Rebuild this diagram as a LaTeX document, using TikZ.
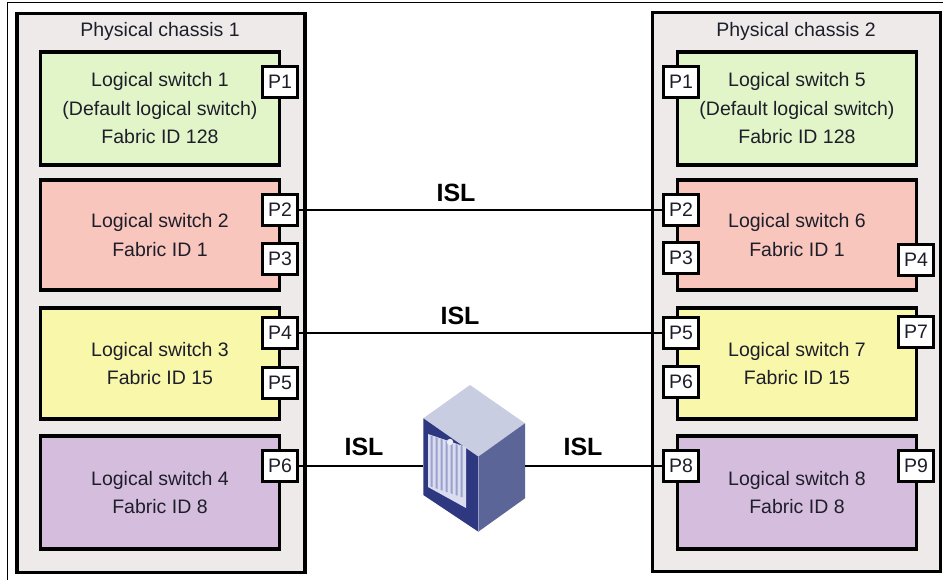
\documentclass[tikz,border=0pt]{standalone}
\usepackage{fontspec}
\setmainfont{Liberation Sans}
\definecolor{chassisgray}{HTML}{EDEAE9}
\definecolor{lsgreen}{HTML}{E2F5C9}
\definecolor{lsred}{HTML}{F8C6BC}
\definecolor{lsyellow}{HTML}{F8F7AA}
\definecolor{lspurple}{HTML}{D5BDDE}
\definecolor{txt}{HTML}{1E1E2A}
\definecolor{cabtop}{HTML}{C9CDE2}
\definecolor{cabfront}{HTML}{2D3880}
\definecolor{cabside}{HTML}{5B6598}
\definecolor{cabpanel}{HTML}{DADDF0}
\definecolor{cabstripe}{HTML}{9AA1CC}
\begin{document}
\begin{tikzpicture}[x=1pt,y=-1pt,
  chassis/.style={draw=black, line width=3.5pt, fill=chassisgray, minimum width=288pt, minimum height=559pt, inner sep=0pt},
  chlabel/.style={font=\fontsize{19.5}{22}\selectfont, text=txt, inner sep=0pt},
  lswitch/.style={draw=black, line width=3.5pt, align=center, inner sep=0pt,
    font=\fontsize{19.5}{28.5}\selectfont, text=txt, minimum width=239pt},
  port/.style={draw=black, line width=3pt, fill=white, minimum width=34.5pt, minimum height=30.5pt,
    inner sep=0pt, font=\fontsize{19.5}{20}\selectfont, text=txt},
  link/.style={line width=2.2pt},
  isl/.style={font=\fontsize{25}{28}\selectfont\bfseries, inner sep=0pt}
]
\useasboundingbox (0,0) rectangle (943,580);

% outer frame (top and left edges)
\draw[line width=1pt] (7,580) -- (7,3) -- (943,3);

% physical chassis
\node[chassis] (ch1) at (161,293) {};
\node[chassis] (ch2) at (796.5,292) {};
\node[chlabel] (ch1lbl) at (160,31) {Physical chassis 1};
\node[chlabel] (ch2lbl) at (796,31) {Physical chassis 2};

% logical switches, chassis 1
\node[lswitch, fill=lsgreen,  minimum height=113pt] (ls1) at (160,108.5)
  {Logical switch 1\\(Default logical switch)\\Fabric ID 128};
\node[lswitch, fill=lsred,    minimum height=110pt] (ls2) at (160,235)
  {Logical switch 2\\Fabric ID 1};
\node[lswitch, fill=lsyellow, minimum height=111pt] (ls3) at (160,363.5)
  {Logical switch 3\\Fabric ID 15};
\node[lswitch, fill=lspurple, minimum height=113pt] (ls4) at (160,492.5)
  {Logical switch 4\\Fabric ID 8};

% logical switches, chassis 2
\node[lswitch, fill=lsgreen,  minimum height=113pt] (ls5) at (797,108.5)
  {Logical switch 5\\(Default logical switch)\\Fabric ID 128};
\node[lswitch, fill=lsred,    minimum height=110pt] (ls6) at (797,235)
  {Logical switch 6\\Fabric ID 1};
\node[lswitch, fill=lsyellow, minimum height=111pt] (ls7) at (797,363.5)
  {Logical switch 7\\Fabric ID 15};
\node[lswitch, fill=lspurple, minimum height=113pt] (ls8) at (797,492.5)
  {Logical switch 8\\Fabric ID 8};

% ports, chassis 1
\node[port] (a1) at (280,82)  {P1};
\node[port] (a2) at (280,210) {P2};
\node[port] (a3) at (280,259) {P3};
\node[port] (a4) at (280,333) {P4};
\node[port] (a5) at (280,383) {P5};
\node[port] (a6) at (280,466) {P6};

% ports, chassis 2
\node[port] (b1) at (681,82)  {P1};
\node[port] (b2) at (681,210) {P2};
\node[port] (b3) at (681,258) {P3};
\node[port] (b4) at (916,260) {P4};
\node[port] (b5) at (681,333) {P5};
\node[port] (b6) at (681,382) {P6};
\node[port] (b7) at (916,332) {P7};
\node[port] (b8) at (681,466) {P8};
\node[port] (b9) at (916,466) {P9};

% fabric switch cabinet
\node[minimum width=102pt, minimum height=147pt, inner sep=0pt] (cab) at (474,458) {};
\fill[cabtop]   (470,385) -- (525,423.3) -- (478.3,456.7) -- (423.3,418.3) -- cycle;
\fill[cabfront] (423.3,418.3) -- (478.3,456.7) -- (478.3,531.7) -- (423.3,495) -- cycle;
\fill[cabside]  (478.3,456.7) -- (525,423.3) -- (525,498.3) -- (478.3,531.7) -- cycle;
% door panel with vertical slats
\fill[cabpanel] (428,434) -- (466,447) -- (466,508) -- (428,487) -- cycle;
\foreach \i in {0,...,6}{
  \fill[cabstripe] ({430.5+5*\i},{435.5+1.7*\i}) -- ++(2,0.7) -- ++(0,51) -- ++(-2,-0.7) -- cycle;
}
\fill[cabpanel!50!white] (450,442) circle (3.2);
\draw[cabtop!70!cabfront, line width=0.6pt] (478.3,456.7) -- (478.3,531.7);

% inter-switch links
\draw[link] (a2.east) -- (b2.west);
\draw[link] (a4.east) -- (b5.west);
\draw[link] (a6.east) -- (a6 -| cab.west);
\draw[link] (b8 -| cab.east) -- (b8.west);

\node[isl] (isl1) at (456,193) {ISL};
\node[isl] (isl2) at (460,316) {ISL};
\node[isl] (isl3) at (364,447) {ISL};
\node[isl] (isl4) at (583,447) {ISL};
\end{tikzpicture}
\end{document}
